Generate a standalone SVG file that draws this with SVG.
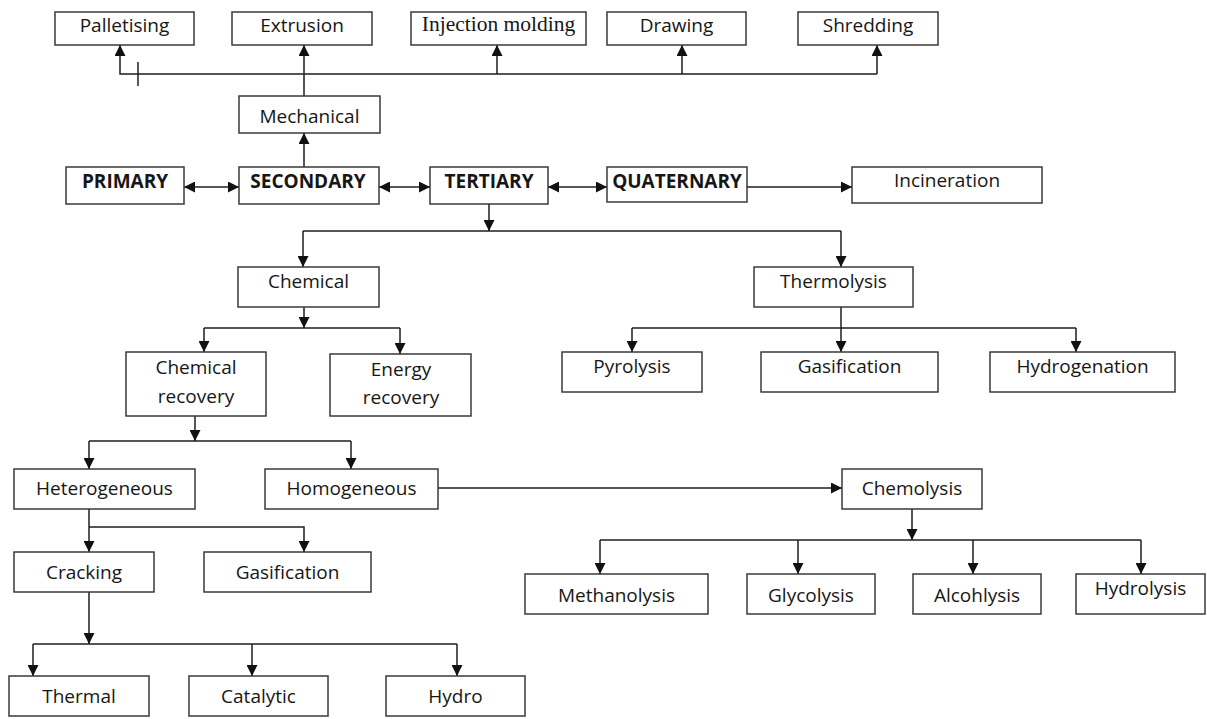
<svg xmlns="http://www.w3.org/2000/svg" width="1207" height="719" viewBox="0 0 1207 719">
<style>
  .box { fill: #ffffff; stroke: #3a3a3a; stroke-width: 1.5; }
  .t { font-family: "Open Sans", "Liberation Sans", sans-serif; font-size: 19px; fill: #161616; text-anchor: middle; }
  .b { font-weight: bold; }
  .serif { font-family: "Liberation Serif", "DejaVu Serif", serif; font-size: 21.5px; }
  .ln { fill: none; stroke: #1e1e1e; stroke-width: 1.5; }
  .ar { fill: none; stroke: #1e1e1e; stroke-width: 1.5; marker-end: url(#ah); }
  .dar { fill: none; stroke: #1e1e1e; stroke-width: 1.5; marker-start: url(#ah); marker-end: url(#ah); }
</style>
<defs>
  <marker id="ah" viewBox="0 0 10 10" refX="10" refY="5" markerWidth="11" markerHeight="11" markerUnits="userSpaceOnUse" orient="auto-start-reverse">
    <path d="M0,0 L10,5 L0,10 z" fill="#111111"/>
  </marker>
</defs>
<rect width="1207" height="719" fill="#ffffff"/>

<g id="connectors">
  <!-- mechanical branch -->
  <path class="ar" d="M877,74 H120 V45"/>
  <path class="ar" d="M304,96 V45"/>
  <path class="ar" d="M497,74 V45"/>
  <path class="ar" d="M682,74 V45"/>
  <path class="ar" d="M877,74 V45"/>
  <path class="ln" d="M138,62 V86"/>
  <path class="ar" d="M304,167 V133"/>
  <!-- main row -->
  <path class="dar" d="M184,187 H239"/>
  <path class="dar" d="M379,187 H430"/>
  <path class="dar" d="M548,187 H607"/>
  <path class="ar" d="M747,187 H852"/>
  <!-- tertiary -->
  <path class="ar" d="M489,204 V231"/>
  <path class="ln" d="M303,231 H841"/>
  <path class="ar" d="M303,231 V267"/>
  <path class="ar" d="M841,231 V267"/>
  <!-- chemical -->
  <path class="ar" d="M304,307 V328"/>
  <path class="ln" d="M204,328 H400"/>
  <path class="ar" d="M204,328 V352"/>
  <path class="ar" d="M400,328 V354"/>
  <!-- thermolysis -->
  <path class="ar" d="M841,307 V352"/>
  <path class="ln" d="M632,328 H1076"/>
  <path class="ar" d="M632,328 V352"/>
  <path class="ar" d="M1076,328 V352"/>
  <!-- chemical recovery -->
  <path class="ar" d="M195,416 V441"/>
  <path class="ln" d="M89,441 H351"/>
  <path class="ar" d="M89,441 V469"/>
  <path class="ar" d="M351,441 V469"/>
  <!-- homogeneous to chemolysis -->
  <path class="ar" d="M438,488 H842"/>
  <!-- heterogeneous -->
  <path class="ar" d="M89,509 V552"/>
  <path class="ar" d="M89,527 H304 V552"/>
  <!-- cracking -->
  <path class="ar" d="M89,592 V644"/>
  <path class="ln" d="M33,644 H457"/>
  <path class="ar" d="M33,644 V676"/>
  <path class="ar" d="M252,644 V676"/>
  <path class="ar" d="M457,644 V676"/>
  <!-- chemolysis -->
  <path class="ar" d="M912,509 V540"/>
  <path class="ln" d="M600,540 H1141"/>
  <path class="ar" d="M600,540 V574"/>
  <path class="ar" d="M798,540 V574"/>
  <path class="ar" d="M973,540 V574"/>
  <path class="ar" d="M1141,540 V574"/>
</g>

<g id="palletising"><rect class="box" x="55" y="12" width="139" height="33"/><text class="t" x="124.5" y="32">Palletising</text></g>
<g id="extrusion"><rect class="box" x="232" y="12" width="140" height="33"/><text class="t" x="302" y="32">Extrusion</text></g>
<g id="injection"><rect class="box" x="411" y="12" width="175" height="33"/><text class="t serif" x="498.5" y="31">Injection molding</text></g>
<g id="drawing"><rect class="box" x="607" y="12" width="139" height="33"/><text class="t" x="676.5" y="32">Drawing</text></g>
<g id="shredding"><rect class="box" x="798" y="12" width="140" height="33"/><text class="t" x="868" y="32">Shredding</text></g>

<g id="mechanical"><rect class="box" x="239" y="96" width="141" height="37"/><text class="t" x="309.5" y="123">Mechanical</text></g>

<g id="primary"><rect class="box" x="66" y="167" width="118" height="37"/><text class="t b" x="125" y="187.5">PRIMARY</text></g>
<g id="secondary"><rect class="box" x="239" y="167" width="140" height="37"/><text class="t b" x="308" y="187.5">SECONDARY</text></g>
<g id="tertiary"><rect class="box" x="430" y="167" width="118" height="37"/><text class="t b" x="489" y="187.5">TERTIARY</text></g>
<g id="quaternary"><rect class="box" x="607" y="167" width="140" height="35"/><text class="t b" x="677" y="187.5">QUATERNARY</text></g>
<g id="incineration"><rect class="box" x="852" y="167" width="190" height="36"/><text class="t" x="947" y="187">Incineration</text></g>

<g id="chemical"><rect class="box" x="238" y="267" width="141" height="40"/><text class="t" x="308.5" y="288">Chemical</text></g>
<g id="thermolysis"><rect class="box" x="754" y="267" width="159" height="40"/><text class="t" x="833.5" y="288">Thermolysis</text></g>

<g id="chemical-recovery"><rect class="box" x="126" y="352" width="140" height="64"/><text class="t" x="196" y="374">Chemical</text><text class="t" x="196" y="403">recovery</text></g>
<g id="energy-recovery"><rect class="box" x="330" y="354" width="141" height="62"/><text class="t" x="401" y="376">Energy</text><text class="t" x="401" y="404">recovery</text></g>

<g id="pyrolysis"><rect class="box" x="562" y="352" width="140" height="40"/><text class="t" x="632" y="373">Pyrolysis</text></g>
<g id="gasification-t"><rect class="box" x="761" y="352" width="177" height="40"/><text class="t" x="849.5" y="373">Gasification</text></g>
<g id="hydrogenation"><rect class="box" x="990" y="352" width="185" height="40"/><text class="t" x="1082.5" y="373">Hydrogenation</text></g>

<g id="heterogeneous"><rect class="box" x="14" y="469" width="181" height="40"/><text class="t" x="104.5" y="495">Heterogeneous</text></g>
<g id="homogeneous"><rect class="box" x="265" y="469" width="173" height="40"/><text class="t" x="351.5" y="495">Homogeneous</text></g>
<g id="chemolysis"><rect class="box" x="842" y="469" width="140" height="40"/><text class="t" x="912" y="495">Chemolysis</text></g>

<g id="cracking"><rect class="box" x="14" y="552" width="140" height="40"/><text class="t" x="84" y="579">Cracking</text></g>
<g id="gasification-h"><rect class="box" x="204" y="552" width="167" height="40"/><text class="t" x="287.5" y="579">Gasification</text></g>

<g id="methanolysis"><rect class="box" x="525" y="574" width="183" height="40"/><text class="t" x="616.5" y="602">Methanolysis</text></g>
<g id="glycolysis"><rect class="box" x="747" y="574" width="128" height="40"/><text class="t" x="811" y="602">Glycolysis</text></g>
<g id="alcohlysis"><rect class="box" x="913" y="574" width="128" height="40"/><text class="t" x="977" y="602">Alcohlysis</text></g>
<g id="hydrolysis"><rect class="box" x="1076" y="574" width="129" height="40"/><text class="t" x="1140.5" y="595">Hydrolysis</text></g>

<g id="thermal"><rect class="box" x="9" y="676" width="140" height="40"/><text class="t" x="79" y="703">Thermal</text></g>
<g id="catalytic"><rect class="box" x="189" y="676" width="139" height="40"/><text class="t" x="258.5" y="703">Catalytic</text></g>
<g id="hydro"><rect class="box" x="386" y="676" width="139" height="40"/><text class="t" x="455.5" y="703">Hydro</text></g>
</svg>
